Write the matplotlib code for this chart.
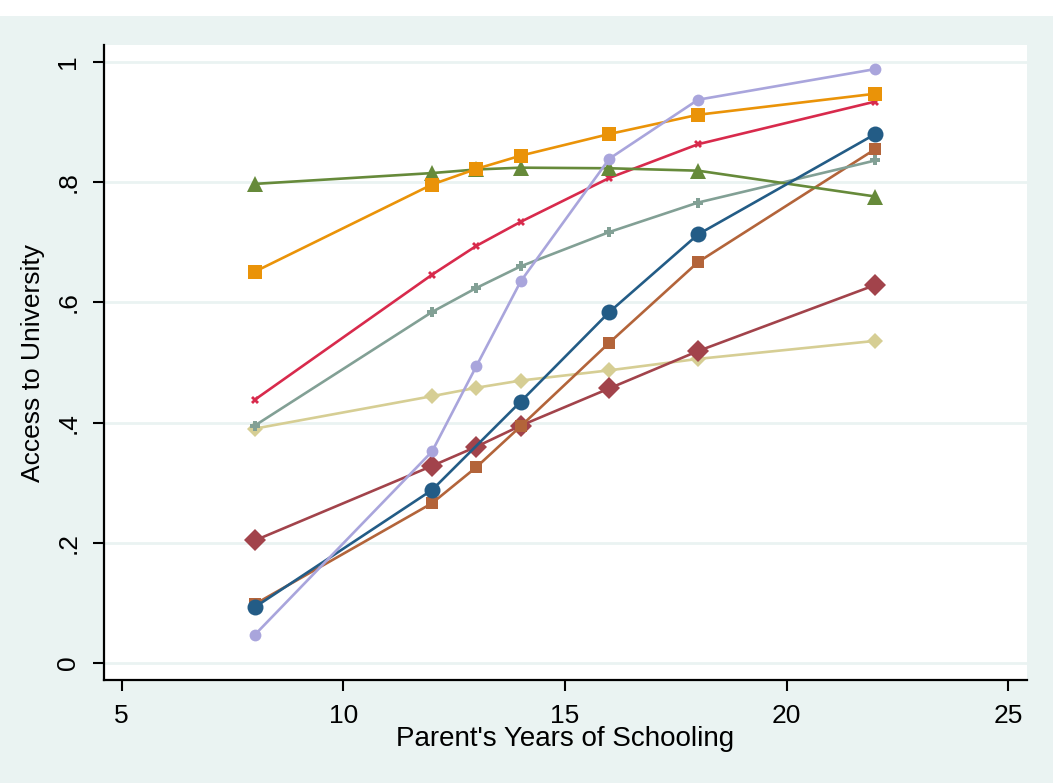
import matplotlib
matplotlib.use("Agg")
import matplotlib.pyplot as plt
from matplotlib.patches import Rectangle

plt.rcParams['font.family'] = ['Liberation Sans', 'DejaVu Sans']

years = [8, 12, 13, 14, 16, 18, 22]
years_no13 = [8, 12, 14, 16, 18, 22]

navy_vals = [0.093, 0.288, 0.435, 0.584, 0.713, 0.880]
orange_vals = [0.651, 0.796, 0.822, 0.844, 0.880, 0.912, 0.947]
green_vals = [0.797, 0.815, 0.821, 0.824, 0.823, 0.819, 0.776]
crimson_vals = [0.438, 0.646, 0.694, 0.734, 0.807, 0.863, 0.934]
teal_vals = [0.395, 0.584, 0.624, 0.660, 0.717, 0.766, 0.836]
lavender_vals = [0.047, 0.352, 0.494, 0.635, 0.839, 0.937, 0.988]
sienna_vals = [0.098, 0.266, 0.326, 0.394, 0.533, 0.667, 0.855]
maroon_vals = [0.204, 0.328, 0.360, 0.395, 0.457, 0.519, 0.629]
khaki_vals = [0.390, 0.444, 0.458, 0.470, 0.487, 0.506, 0.536]

xticks = [5, 10, 15, 20, 25]
yticks = [0, 0.2, 0.4, 0.6, 0.8, 1.0]
ytick_labels = ['0', '.2', '.4', '.6', '.8', '1']

BG = '#EAF3F2'
fig = plt.figure(figsize=(10.53, 7.83), dpi=100, facecolor=BG)
# white strip at top of the figure
fig.patches.append(Rectangle((0, 1 - 16 / 783), 1, 16 / 783, transform=fig.transFigure,
                             facecolor='white', edgecolor='none', zorder=0))

ax = fig.add_axes([104 / 1053, 1 - 680 / 783, (1027 - 104) / 1053, (680 - 45) / 783])
ax.set_facecolor('white')

series = [
    (years, khaki_vals, '#D6CE94', 'D', 8.5),
    (years, maroon_vals, '#A2434B', 'D', 11),
    (years, sienna_vals, '#B3643A', 's', 8.5),
    (years, teal_vals, '#82A095', 'P', 7),
    (years, crimson_vals, '#D82A4C', 'X', 6),
    (years, green_vals, '#668A3A', '^', 12),
    (years, orange_vals, '#EA9308', 's', 10.5),
    (years_no13, navy_vals, '#235C86', 'o', 11.5),
    (years, lavender_vals, '#A9A5DC', 'o', 8.5),
]

for xs, ys, col, mk, ms in series:
    ax.plot(xs, ys, color=col, marker=mk, markersize=ms, linewidth=1.9,
            markeredgewidth=0, zorder=3)

ax.set_xlim(4.6, 25.42)
ax.set_ylim(-0.028, 1.028)
ax.set_xticks(xticks)
ax.set_xticklabels([str(v) for v in xticks])
ax.set_yticks(yticks)
ax.set_yticklabels(ytick_labels, rotation=90, va='center')
ax.grid(axis='y', color=BG, linewidth=2.0, zorder=0)
ax.set_axisbelow(True)

for s in ['top', 'right']:
    ax.spines[s].set_visible(False)
for s in ['left', 'bottom']:
    ax.spines[s].set_linewidth(1.6)
    ax.spines[s].set_color('black')

ax.tick_params(axis='both', direction='out', length=8, width=1.5, color='black',
               labelsize=19, pad=9)

ax.set_xlabel("Parent's Years of Schooling", fontsize=20, labelpad=-1)
ax.set_ylabel("Access to University", fontsize=19, labelpad=8)

fig.savefig('out.png', dpi=100, facecolor=BG)
